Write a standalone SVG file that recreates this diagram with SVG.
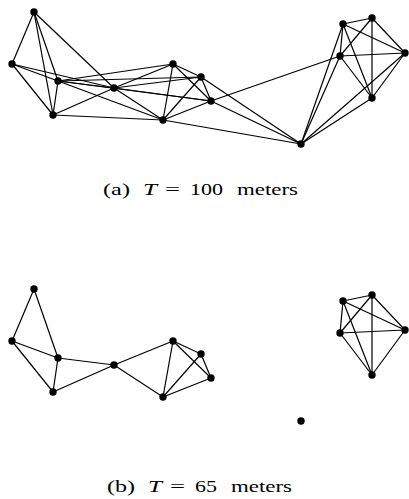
<svg xmlns="http://www.w3.org/2000/svg" width="409" height="499" viewBox="0 0 409 499">
<style>
.e{stroke:#000;stroke-width:1.2;fill:none}
.n{fill:#000}
.cap{font-family:"Liberation Serif","Times New Roman",serif;font-size:17.5px;fill:#000}
.it{font-style:italic}
</style>
<rect width="409" height="499" fill="#fff"/>
<g id="connectors-a" class="e">
<line x1="34" y1="12" x2="12" y2="64"/>
<line x1="34" y1="12" x2="58" y2="81"/>
<line x1="34" y1="12" x2="53" y2="115"/>
<line x1="34" y1="12" x2="114" y2="88"/>
<line x1="12" y1="64" x2="58" y2="81"/>
<line x1="12" y1="64" x2="114" y2="88"/>
<line x1="12" y1="64" x2="53" y2="115"/>
<line x1="58" y1="81" x2="114" y2="88"/>
<line x1="58" y1="81" x2="53" y2="115"/>
<line x1="58" y1="81" x2="173" y2="64"/>
<line x1="58" y1="81" x2="201" y2="77"/>
<line x1="58" y1="81" x2="163" y2="120"/>
<line x1="58" y1="81" x2="211" y2="101"/>
<line x1="114" y1="88" x2="53" y2="115"/>
<line x1="114" y1="88" x2="173" y2="64"/>
<line x1="114" y1="88" x2="201" y2="77"/>
<line x1="114" y1="88" x2="211" y2="101"/>
<line x1="114" y1="88" x2="163" y2="120"/>
<line x1="53" y1="115" x2="163" y2="120"/>
<line x1="173" y1="64" x2="201" y2="77"/>
<line x1="173" y1="64" x2="211" y2="101"/>
<line x1="173" y1="64" x2="163" y2="120"/>
<line x1="201" y1="77" x2="211" y2="101"/>
<line x1="201" y1="77" x2="163" y2="120"/>
<line x1="201" y1="77" x2="301" y2="144"/>
<line x1="211" y1="101" x2="163" y2="120"/>
<line x1="211" y1="101" x2="301" y2="144"/>
<line x1="211" y1="101" x2="340" y2="56"/>
<line x1="163" y1="120" x2="301" y2="144"/>
<line x1="301" y1="144" x2="343" y2="24"/>
<line x1="301" y1="144" x2="340" y2="56"/>
<line x1="301" y1="144" x2="405" y2="53"/>
<line x1="301" y1="144" x2="372" y2="98"/>
<line x1="343" y1="24" x2="372" y2="18"/>
<line x1="343" y1="24" x2="340" y2="56"/>
<line x1="343" y1="24" x2="405" y2="53"/>
<line x1="343" y1="24" x2="372" y2="98"/>
<line x1="372" y1="18" x2="340" y2="56"/>
<line x1="372" y1="18" x2="405" y2="53"/>
<line x1="372" y1="18" x2="372" y2="98"/>
<line x1="340" y1="56" x2="405" y2="53"/>
<line x1="340" y1="56" x2="372" y2="98"/>
<line x1="405" y1="53" x2="372" y2="98"/>
</g>
<g id="connectors-b" class="e">
<line x1="34" y1="289" x2="12" y2="341"/>
<line x1="34" y1="289" x2="58" y2="358"/>
<line x1="12" y1="341" x2="58" y2="358"/>
<line x1="12" y1="341" x2="53" y2="392"/>
<line x1="58" y1="358" x2="53" y2="392"/>
<line x1="58" y1="358" x2="114" y2="365"/>
<line x1="53" y1="392" x2="114" y2="365"/>
<line x1="114" y1="365" x2="173" y2="341"/>
<line x1="114" y1="365" x2="163" y2="397"/>
<line x1="173" y1="341" x2="163" y2="397"/>
<line x1="173" y1="341" x2="201" y2="354"/>
<line x1="173" y1="341" x2="211" y2="378"/>
<line x1="201" y1="354" x2="211" y2="378"/>
<line x1="201" y1="354" x2="163" y2="397"/>
<line x1="211" y1="378" x2="163" y2="397"/>
<line x1="343" y1="301" x2="372" y2="295"/>
<line x1="343" y1="301" x2="340" y2="333"/>
<line x1="343" y1="301" x2="405" y2="330"/>
<line x1="343" y1="301" x2="372" y2="375"/>
<line x1="372" y1="295" x2="340" y2="333"/>
<line x1="372" y1="295" x2="405" y2="330"/>
<line x1="372" y1="295" x2="372" y2="375"/>
<line x1="340" y1="333" x2="405" y2="330"/>
<line x1="340" y1="333" x2="372" y2="375"/>
<line x1="405" y1="330" x2="372" y2="375"/>
</g>
<g id="nodes-a" class="n">
<g id="a-A"><circle cx="34" cy="12" r="3.7"/></g>
<g id="a-B"><circle cx="12" cy="64" r="3.7"/></g>
<g id="a-C"><circle cx="58" cy="81" r="3.7"/></g>
<g id="a-D"><circle cx="114" cy="88" r="3.7"/></g>
<g id="a-E"><circle cx="53" cy="115" r="3.7"/></g>
<g id="a-F"><circle cx="173" cy="64" r="3.7"/></g>
<g id="a-G"><circle cx="201" cy="77" r="3.7"/></g>
<g id="a-H"><circle cx="211" cy="101" r="3.7"/></g>
<g id="a-I"><circle cx="163" cy="120" r="3.7"/></g>
<g id="a-J"><circle cx="301" cy="144" r="3.7"/></g>
<g id="a-K"><circle cx="343" cy="24" r="3.7"/></g>
<g id="a-L"><circle cx="372" cy="18" r="3.7"/></g>
<g id="a-M"><circle cx="340" cy="56" r="3.7"/></g>
<g id="a-N"><circle cx="405" cy="53" r="3.7"/></g>
<g id="a-O"><circle cx="372" cy="98" r="3.7"/></g>
</g>
<g id="nodes-b" class="n">
<g id="b-A"><circle cx="34" cy="289" r="3.7"/></g>
<g id="b-B"><circle cx="12" cy="341" r="3.7"/></g>
<g id="b-C"><circle cx="58" cy="358" r="3.7"/></g>
<g id="b-D"><circle cx="114" cy="365" r="3.7"/></g>
<g id="b-E"><circle cx="53" cy="392" r="3.7"/></g>
<g id="b-F"><circle cx="173" cy="341" r="3.7"/></g>
<g id="b-G"><circle cx="201" cy="354" r="3.7"/></g>
<g id="b-H"><circle cx="211" cy="378" r="3.7"/></g>
<g id="b-I"><circle cx="163" cy="397" r="3.7"/></g>
<g id="b-J"><circle cx="301" cy="421" r="3.7"/></g>
<g id="b-K"><circle cx="343" cy="301" r="3.7"/></g>
<g id="b-L"><circle cx="372" cy="295" r="3.7"/></g>
<g id="b-M"><circle cx="340" cy="333" r="3.7"/></g>
<g id="b-N"><circle cx="405" cy="330" r="3.7"/></g>
<g id="b-O"><circle cx="372" cy="375" r="3.7"/></g>
</g>
<g id="caption-a" class="cap">
<text x="103" y="195" textLength="27" lengthAdjust="spacingAndGlyphs">(a)</text>
<text class="it" x="143" y="195" textLength="14" lengthAdjust="spacingAndGlyphs">T</text>
<text x="165" y="195" textLength="15" lengthAdjust="spacingAndGlyphs">=</text>
<text x="190" y="195" textLength="33" lengthAdjust="spacingAndGlyphs">100</text>
<text x="237" y="195" textLength="61" lengthAdjust="spacingAndGlyphs">meters</text>
</g>
<g id="caption-b" class="cap">
<text x="107" y="492" textLength="28" lengthAdjust="spacingAndGlyphs">(b)</text>
<text class="it" x="148" y="492" textLength="14" lengthAdjust="spacingAndGlyphs">T</text>
<text x="170" y="492" textLength="15" lengthAdjust="spacingAndGlyphs">=</text>
<text x="195" y="492" textLength="22" lengthAdjust="spacingAndGlyphs">65</text>
<text x="231" y="492" textLength="61" lengthAdjust="spacingAndGlyphs">meters</text>
</g>
</svg>
